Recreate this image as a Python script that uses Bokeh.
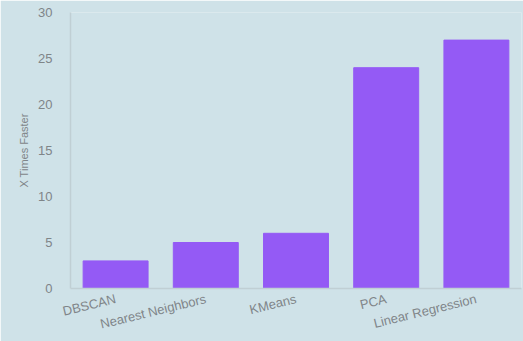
import math
from bokeh.plotting import figure
from bokeh.models import Range1d, FactorRange, FixedTicker, ColumnDataSource
from bokeh.embed import file_html
from bokeh.resources import INLINE

algorithms = ["DBSCAN", "Nearest Neighbors", "KMeans", "PCA", "Linear Regression"]
speedups = [3, 5, 6, 24, 27]
y_ticks = [0, 5, 10, 15, 20, 25, 30]

BG = "#cfe2e8"
BAR = "#945af5"
TXT = "#7f8588"
FONT = "Liberation Sans"

source = ColumnDataSource(data=dict(alg=algorithms, val=speedups))

p = figure(width=523, height=341, x_range=FactorRange(*algorithms, range_padding=0),
           y_range=Range1d(0, 30), output_backend="svg", toolbar_location=None,
           background_fill_color=BG, border_fill_color=BG,
           min_border_top=12, min_border_right=2, min_border_left=70, min_border_bottom=0)

p.vbar(x="alg", top="val", width=0.72, source=source, fill_color=BAR, line_color=BAR)

p.outline_line_color = None
p.xgrid.grid_line_color = None
p.ygrid.grid_line_color = None

p.yaxis.ticker = FixedTicker(ticks=y_ticks)
p.yaxis.axis_label = "X Times Faster"
p.yaxis.axis_label_text_font = FONT
p.yaxis.axis_label_text_font_style = "normal"
p.yaxis.axis_label_text_font_size = "11px"
p.yaxis.axis_label_text_color = TXT
p.yaxis.axis_label_standoff = 5

for ax in (p.xaxis, p.yaxis):
    ax.major_label_text_font = FONT
    ax.major_label_text_font_size = "13px"
    ax.major_label_text_color = TXT
    ax.major_tick_line_color = None
    ax.minor_tick_line_color = None
    ax.axis_line_color = "#c0cfd4"
    ax.axis_line_width = 1.5

p.yaxis.major_label_standoff = 12
p.xaxis.major_label_orientation = 0.24
p.xaxis.major_label_standoff = 4

open("out.html", "w").write(file_html(p, INLINE))
